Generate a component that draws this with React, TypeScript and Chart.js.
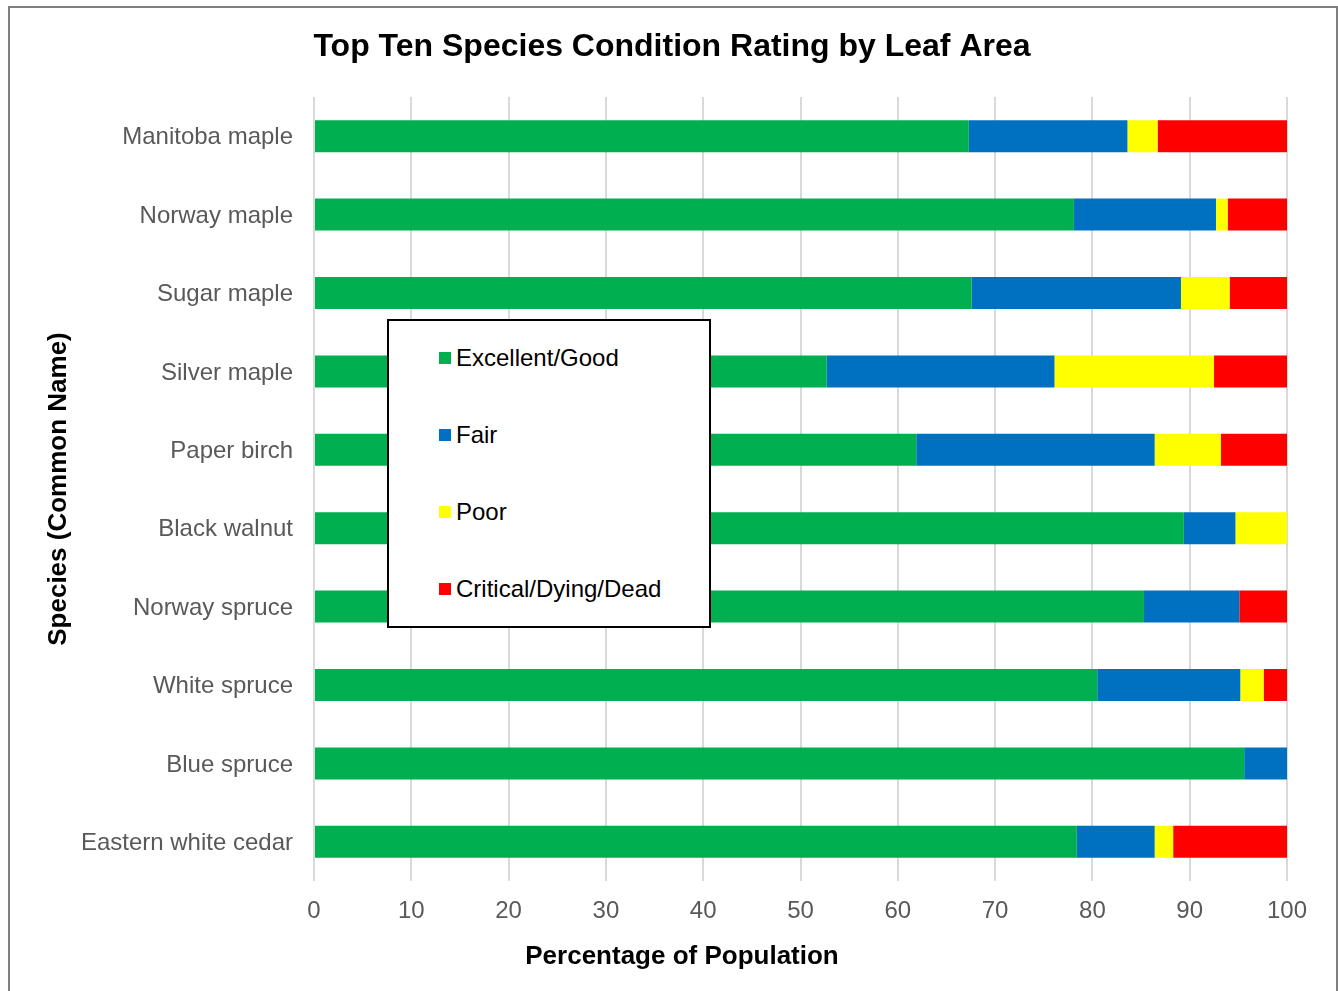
import React, { useEffect, useRef } from "react";
import { Chart, registerables } from "chart.js";

Chart.register(...registerables);

const categories = [
  "Manitoba maple",
  "Norway maple",
  "Sugar maple",
  "Silver maple",
  "Paper birch",
  "Black walnut",
  "Norway spruce",
  "White spruce",
  "Blue spruce",
  "Eastern white cedar",
];

const excellentGood = [67.3, 78.1, 67.6, 52.7, 61.9, 89.4, 85.3, 80.5, 95.6, 78.4];
const fair = [16.3, 14.6, 21.5, 23.4, 24.5, 5.3, 9.8, 14.7, 4.4, 8.0];
const poor = [3.1, 1.2, 5.0, 16.4, 6.8, 5.3, 0, 2.4, 0, 1.9];
const critical = [13.3, 6.1, 5.9, 7.5, 6.8, 0, 4.9, 2.4, 0, 11.7];

const seriesNames = ["Excellent/Good", "Fair", "Poor", "Critical/Dying/Dead"];
const seriesColors = ["#00B050", "#0070C0", "#FFFF00", "#FF0000"];

const xMin = 0;
const xMax = 100;
const xStep = 10;

const chartTitle = "Top Ten Species Condition Rating by Leaf Area";
const xAxisTitle = "Percentage of Population";
const yAxisTitle = "Species (Common Name)";

const FONT = '"Liberation Sans", Arial, Helvetica, sans-serif';

const titlesPlugin = {
  id: "titlesCustom",
  afterDraw(chart: any) {
    const ctx = chart.ctx;
    ctx.save();
    ctx.fillStyle = "#000000";
    ctx.textAlign = "center";
    ctx.textBaseline = "middle";
    ctx.font = `bold 32px ${FONT}`;
    ctx.fillText(chartTitle, chart.width / 2 + 3, 47.5);
    ctx.font = `bold 26px ${FONT}`;
    ctx.fillText(xAxisTitle, chart.width / 2 + 13, chart.chartArea.bottom + 76);
    ctx.restore();
  },
};

export default function App() {
  const canvasRef = useRef<HTMLCanvasElement | null>(null);

  useEffect(() => {
    if (!canvasRef.current) return;
    const seriesData = [excellentGood, fair, poor, critical];
    const chart = new Chart(canvasRef.current, {
      type: "bar",
      data: {
        labels: categories,
        datasets: seriesNames.map((name, i) => ({
          label: name,
          data: seriesData[i],
          backgroundColor: seriesColors[i],
          borderWidth: 0,
          barPercentage: 0.408,
          categoryPercentage: 1,
        })),
      },
      options: {
        indexAxis: "y",
        animation: false,
        responsive: true,
        maintainAspectRatio: false,
        layout: { padding: { left: 0, right: 51, top: 97, bottom: 0 } },
        plugins: {
          legend: { display: false },
          tooltip: { enabled: false },
          title: { display: false },
        },
        scales: {
          x: {
            stacked: true,
            min: xMin,
            max: xMax,
            afterFit(scale: any) {
              scale.height = 110;
            },
            ticks: {
              stepSize: xStep,
              color: "#595959",
              font: { family: FONT, size: 24 },
              padding: 15.5,
            },
            grid: {
              color: "#d9d9d9",
              lineWidth: 2,
              drawTicks: false,
            },
            border: { display: false },
          },
          y: {
            stacked: true,
            afterFit(scale: any) {
              scale.width = 314;
            },
            ticks: {
              color: "#595959",
              font: { family: FONT, size: 24 },
              padding: 21,
              labelOffset: 1.5,
            },
            grid: { display: false, drawTicks: false },
            border: { display: false },
            title: {
              display: true,
              text: yAxisTitle,
              color: "#000000",
              font: { family: FONT, size: 26, weight: "bold", lineHeight: 1.2 },
              padding: { top: 43.4, bottom: 0 },
            },
          },
        },
      },
      plugins: [titlesPlugin],
    } as any);
    return () => chart.destroy();
  }, []);

  const legendTops = [358, 435, 512, 589];

  return (
    <div>
      <div
        style={{
          position: "fixed",
          left: 0,
          top: 0,
          width: 1338,
          height: 991,
          background: "#ffffff",
        }}
      >
        <canvas ref={canvasRef} />
      </div>
      <div
        style={{
          position: "fixed",
          left: 8,
          top: 6,
          width: 1330,
          height: 1010,
          boxSizing: "border-box",
          border: "2px solid #7f7f7f",
          pointerEvents: "none",
        }}
      />
      <div
        style={{
          position: "fixed",
          left: 387,
          top: 319,
          width: 324,
          height: 309,
          boxSizing: "border-box",
          border: "2px solid #000000",
          background: "#ffffff",
          fontFamily: FONT,
          fontSize: 24,
          color: "#000000",
        }}
      >
        {seriesNames.map((name, i) => (
          <div
            key={name}
            style={{
              position: "absolute",
              left: 50,
              top: legendTops[i] - 319 - 2 - 15,
              height: 30,
              display: "flex",
              alignItems: "center",
              whiteSpace: "nowrap",
            }}
          >
            <span
              style={{
                display: "inline-block",
                width: 12,
                height: 12,
                background: seriesColors[i],
                marginRight: 5,
              }}
            />
            <span style={{ lineHeight: "30px" }}>{name}</span>
          </div>
        ))}
      </div>
    </div>
  );
}
